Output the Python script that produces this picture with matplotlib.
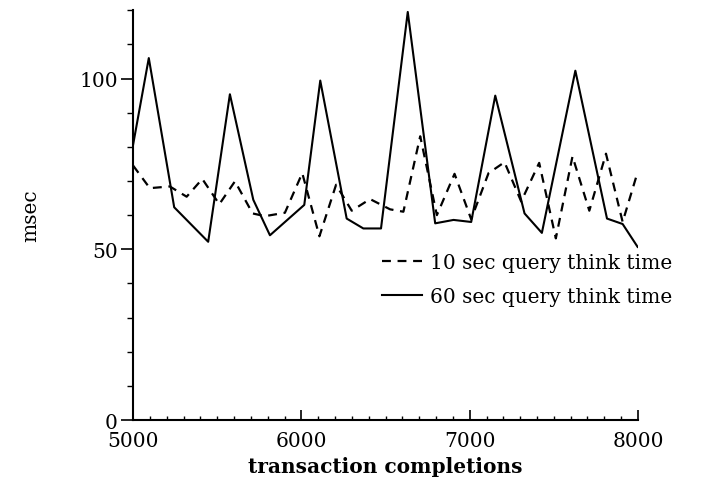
import matplotlib
matplotlib.use("Agg")
import matplotlib.pyplot as plt
import matplotlib.ticker as ticker

# 10 sec query think time (dashed)
x10 = [5000, 5099, 5218, 5318, 5411, 5512, 5605, 5710, 5783, 5902, 6005, 6107,
       6206, 6299, 6408, 6527, 6606, 6706, 6805, 6910, 7009, 7112, 7207, 7306,
       7413, 7512, 7611, 7711, 7810, 7909, 7995]
y10 = [74.5, 67.9, 68.4, 65.4, 70.6, 63.2, 69.9, 60.5, 59.7, 60.7, 72.3, 53.8,
       68.9, 61.3, 64.7, 61.7, 61.0, 83.1, 60.0, 72.1, 58.8, 72.3, 75.5, 64.0,
       75.3, 53.2, 77.2, 61.3, 78.0, 58.0, 72.1]

# 60 sec query think time (solid)
x60 = [5000, 5093, 5244, 5446, 5575, 5714, 5813, 6017, 6112, 6269, 6368, 6473,
       6632, 6795, 6904, 7009, 7152, 7326, 7429, 7628, 7816, 7909, 7998]
y60 = [80.7, 106.0, 62.3, 52.2, 95.4, 64.5, 54.1, 63.0, 99.4, 59.0, 56.1, 56.1,
       119.5, 57.6, 58.6, 58.0, 95.0, 60.5, 54.8, 102.3, 59.0, 57.4, 50.7]

plt.rcParams['font.family'] = ['DejaVu Serif']

fig = plt.figure(figsize=(7.12, 4.89), dpi=100)
ax = fig.add_axes([0.187, 0.139, 0.709, 0.838])

ax.plot(x10, y10, color="black", linewidth=1.6, linestyle=(0, (4, 3)),
        label="10 sec query think time")
ax.plot(x60, y60, color="black", linewidth=1.5, label="60 sec query think time")

ax.set_xlim(5000, 8000)
ax.set_ylim(0, 120)
ax.xaxis.set_major_locator(ticker.MultipleLocator(1000))
ax.xaxis.set_minor_locator(ticker.MultipleLocator(100))
ax.yaxis.set_major_locator(ticker.MultipleLocator(50))
ax.yaxis.set_minor_locator(ticker.MultipleLocator(10))

ax.spines['top'].set_visible(False)
ax.spines['right'].set_visible(False)
ax.spines['left'].set_linewidth(1.5)
ax.spines['bottom'].set_linewidth(1.5)

ax.tick_params(axis='y', which='major', direction='out', length=9, width=1.2,
               labelsize=14.5, pad=2)
ax.tick_params(axis='y', which='minor', direction='out', length=4, width=1)
ax.tick_params(axis='x', which='major', direction='in', length=7, width=1.2,
               labelsize=14.5, pad=8)
ax.tick_params(axis='x', which='minor', direction='in', length=3, width=1)

ax.set_xlabel("transaction completions", fontsize=14.5, fontweight="bold",
              labelpad=4)
ax.set_ylabel("msec", fontsize=14.5, labelpad=28)

ax.legend(loc="center left", bbox_to_anchor=(0.457, 0.343), frameon=False,
          fontsize=14.5, handlelength=2.0, handletextpad=0.4, labelspacing=0.75)

fig.savefig("out.png", dpi=100)
